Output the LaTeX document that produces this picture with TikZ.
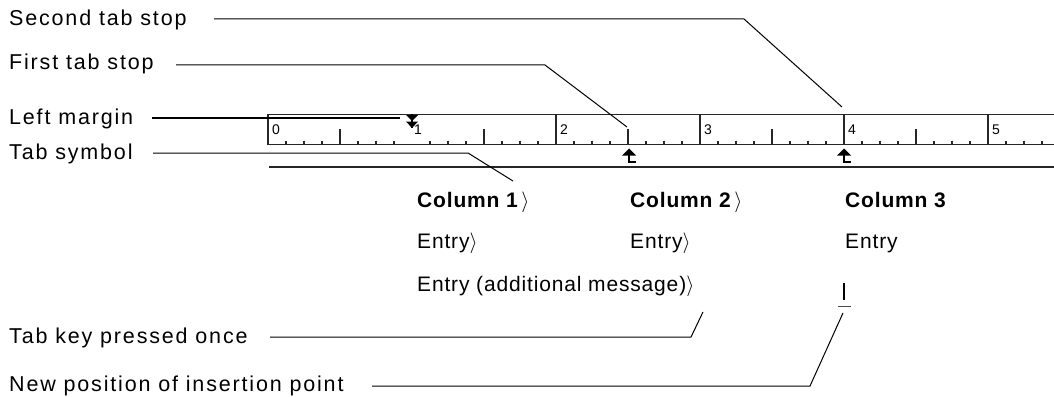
\documentclass[tikz,border=0pt]{standalone}
\usepackage{fontspec}
\setmainfont{Liberation Sans}
\newfontfamily\labfont[LetterSpace=8.5]{Liberation Sans}
\newfontfamily\colfont[LetterSpace=4]{Liberation Sans}
\newfontfamily\rulfont{Liberation Sans}
\begin{document}
\begin{tikzpicture}[x=1pt,y=-1pt,
  lab/.style={anchor=base west,inner sep=0pt,font=\labfont\fontsize{21.5}{24}\selectfont},
  col/.style={anchor=base west,inner sep=0pt,font=\colfont\fontsize{21}{24}\selectfont},
  colb/.style={anchor=base west,inner sep=0pt,font=\colfont\bfseries\fontsize{21}{24}\selectfont},
  dig/.style={anchor=base west,inner sep=0pt,font=\rulfont\fontsize{14}{16}\selectfont},
  leader/.style={line width=1pt,draw=black},
  rulerline/.style={line width=1.8pt,draw=black!85},
  tick/.style={line width=1.4pt,draw=black!85},
]
\clip (0,0) rectangle (1054,396);
\fill[white] (0,0) rectangle (1054,396);

% ---------- ruler ----------
\draw[rulerline] (1054,114.5) -- (268,114.5) -- (268,144.5) -- (1054,144.5);
\foreach \i in {2,3,4,5}{
  \draw[tick] ({268+144*(\i)},114) -- ({268+144*(\i)},145);
}
\foreach \i in {0,...,5}{
  \foreach \j in {1,...,7}{
    \pgfmathsetmacro{\xx}{268+144*\i+18*\j}
    \ifnum\j=4
      \draw[tick] (\xx,129) -- (\xx,144);
    \else
      \draw[tick] (\xx,140.5) -- (\xx,144);
    \fi
  }
}
\node[dig] (d0) at (272,134) {0};
\node[dig] (d1) at (414,134) {1};
\node[dig] (d2) at (560,134) {2};
\node[dig] (d3) at (704,134) {3};
\node[dig] (d4) at (848,134) {4};
\node[dig] (d5) at (992,134) {5};
% left margin marker
\fill[white] (405,116) rectangle (413.5,128);
\draw[line width=1.2pt] (412,114) -- (412,128);
\fill (406,115) -- (418,115) -- (412,121) -- cycle;
\fill (406,121.5) -- (418,121.5) -- (412,128) -- cycle;
% tab markers
\foreach \x in {629,844}{
  \fill (\x-7,155.5) -- (\x,148.5) -- (\x+7,155.5) -- cycle;
  \draw[line width=1.8pt] (\x,155) -- (\x,162) -- (\x+7,162);
}
\draw[line width=1.8pt,draw=black!85] (269,167) -- (1054,167);

% ---------- text lines ----------
\node[colb] (c1h) at (417,207.5) {Column 1\,$\rangle$};
\node[colb] (c2h) at (630,207.5) {Column 2\,$\rangle$};
\node[colb] (c3h) at (845,207.5) {Column 3};
\node[col] (e1) at (417,248.5) {Entry$\rangle$};
\node[col] (e2) at (630,248.5) {Entry$\rangle$};
\node[col] (e3) at (845,248.5) {Entry};
\node[col] (e4) at (417,291.5) {Entry (additional message)$\rangle$};
\coordinate (ibtop) at (844,283);
\coordinate (ibbot) at (844,300);
\draw[line width=1.6pt] (ibtop) -- (ibbot);
\draw[line width=1pt,black!70] (838,306) -- (851,306);

% ---------- labels ----------
\node[lab] (l2nd) at (9,26) {Second tab stop};
\node[lab] (l1st) at (9,70) {First tab stop};
\node[lab] (lmar) at (9,124) {Left margin};
\node[lab] (ltab) at (9,159) {Tab symbol};
\node[lab] (lkey) at (9,343) {Tab key pressed once};
\node[lab] (lnew) at (9,391) {New position of insertion point};

\coordinate (s2nd) at (214,19);   \coordinate (k2nd) at (744,19);   \coordinate (t2nd) at (842,107);
\coordinate (s1st) at (176,65);   \coordinate (k1st) at (545,65);   \coordinate (t1st) at (627,127);
\coordinate (smar) at (152,118);  \coordinate (tmar) at (400,118);
\coordinate (stab) at (153,153);  \coordinate (ktab) at (468,153);  \coordinate (ttab) at (513,181);
\coordinate (skey) at (270,337);  \coordinate (kkey) at (691,337);  \coordinate (tkey) at (703,312);
\coordinate (snew) at (372,386);  \coordinate (knew) at (810,386);  \coordinate (tnew) at (843,313);

\draw[leader] (s2nd) -- (k2nd) -- (t2nd);
\draw[leader] (s1st) -- (k1st) -- (t1st);
\draw[leader,line width=1.8pt] (smar) -- (tmar);
\draw[leader] (stab) -- (ktab) -- (ttab);
\draw[leader] (skey) -- (kkey) -- (tkey);
\draw[leader] (snew) -- (knew) -- (tnew);
\end{tikzpicture}
\end{document}
